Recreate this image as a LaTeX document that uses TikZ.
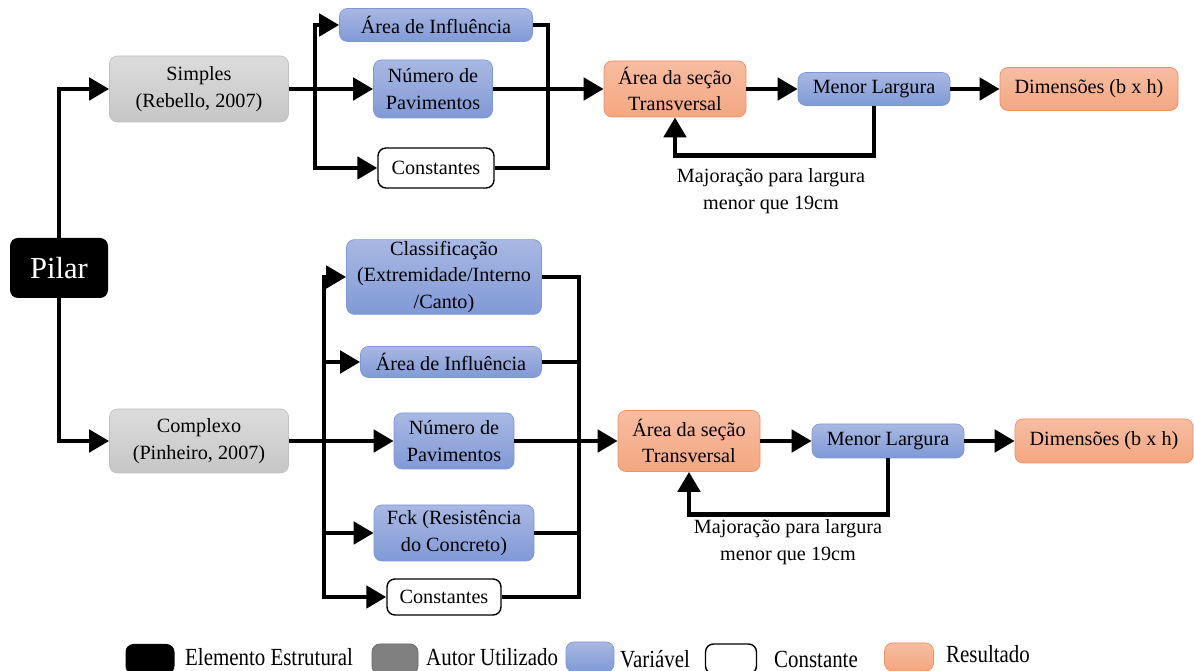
\documentclass[tikz,border=0pt]{standalone}
\usepackage{fontspec}
\setmainfont{Liberation Serif}
\newfontfamily\serifa[FakeStretch=1.0]{Liberation Serif}
\newfontfamily\legfont[FakeStretch=0.85]{Liberation Serif}
\usepackage{xcolor}
\usepackage{tikz}
\usetikzlibrary{arrows.meta, positioning}

\definecolor{azulA}{HTML}{A9B8E3}
\definecolor{azulB}{HTML}{8099D6}
\definecolor{azulBorda}{HTML}{7D97D6}
\definecolor{laranjaA}{HTML}{F7BDA2}
\definecolor{laranjaB}{HTML}{F4A780}
\definecolor{laranjaBorda}{HTML}{EF9064}
\definecolor{cinzaA}{HTML}{DCDCDC}
\definecolor{cinzaB}{HTML}{C6C6C6}
\definecolor{cinzaBorda}{HTML}{C2C2C2}

\begin{document}
\begin{tikzpicture}[
    x=0.02cm, y=-0.02cm,
    every node/.style={font=\serifa\fontsize{11.5}{15}\selectfont},
    caixa/.style 2 args={rounded corners=0.16cm, align=center, inner sep=1pt,
        minimum width=#1*0.02cm, minimum height=#2*0.02cm},
    varbox/.style={draw=azulBorda, top color=azulA, bottom color=azulB, thin},
    resbox/.style={draw=laranjaBorda, top color=laranjaA, bottom color=laranjaB, thin},
    autorbox/.style={draw=cinzaBorda, top color=cinzaA, bottom color=cinzaB, thin},
    constbox/.style={draw=black, fill=white, line width=0.8pt},
    elembox/.style={fill=black, text=white},
    seta/.style={line width=2.7pt, -{Triangle[length=0.4cm, width=0.44cm]}},
    linha/.style={line width=2.7pt},
    rotulo/.style={align=center},
    legtext/.style={anchor=west, font=\legfont\fontsize{14}{16}\selectfont}
]

\useasboundingbox (0,0) rectangle (1194,671);

% elemento estrutural
\node[elembox, caixa={98}{60}, font=\serifa\fontsize{17.4}{20}\selectfont] (pilar) at (59,268) {Pilar};

% ---------- ramo simples ----------
\node[autorbox, caixa={179}{66}] (simples) at (199,89) {Simples\\(Rebello, 2007)};

\node[varbox,   caixa={193}{33}] (areaA)  at (436,25)  {Área de Influência};
\node[varbox,   caixa={119}{58}] (numA)   at (433,89)  {Número de\\Pavimentos};
\node[constbox, caixa={116}{40}] (constA) at (436,168) {Constantes};

\node[resbox, caixa={142}{56}] (secaoA) at (675,89)  {Área da seção\\Transversal};
\node[varbox, caixa={152}{33}] (menorA) at (874,89)  {Menor Largura};
\node[resbox, caixa={178}{43}] (dimA)   at (1089,89) {Dimensões (b x h)};

\node[rotulo] (majA) at (771,191) {Majoração para largura\\menor que 19cm};

\coordinate (bA) at (315,0);
\coordinate (cA) at (548,0);

\draw[seta] (pilar.north) |- (simples.west);
\draw[seta] (simples.east) -- (numA.west);
\draw[seta] (bA |- simples.east) |- (areaA.west);
\draw[seta] (bA |- simples.east) |- (constA.west);
\draw[linha] (areaA.east) -| (cA |- numA.east);
\draw[linha] (constA.east) -| (cA |- numA.east);
\draw[seta] (numA.east) -- (secaoA.west);
\draw[seta] (secaoA.east) -- (menorA.west);
\draw[seta] (menorA.east) -- (dimA.west);
\draw[seta] (menorA.south) -- ++(0,50) -| (secaoA.south);

% ---------- ramo complexo ----------
\node[autorbox, caixa={179}{64}] (complexo) at (199,441) {Complexo\\(Pinheiro, 2007)};

\node[varbox,   caixa={195}{72}] (classB) at (444,277) {Classificação\\(Extremidade/Interno\\/Canto)};
\node[varbox,   caixa={181}{31}] (areaB)  at (451,362) {Área de Influência};
\node[varbox,   caixa={120}{56}] (numB)   at (454,441) {Número de\\Pavimentos};
\node[varbox,   caixa={160}{56}] (fckB)   at (454,533) {Fck (Resistência\\do Concreto)};
\node[constbox, caixa={114}{36}] (constB) at (444,597) {Constantes};

\node[resbox, caixa={142}{61}] (secaoB) at (689,441)  {Área da seção\\Transversal};
\node[varbox, caixa={152}{34}] (menorB) at (888,441)  {Menor Largura};
\node[resbox, caixa={178}{44}] (dimB)   at (1104,441) {Dimensões (b x h)};

\node[rotulo] (majB) at (788,542) {Majoração para largura\\menor que 19cm};

\coordinate (bB) at (324,0);
\coordinate (cB) at (579,0);

\draw[seta] (pilar.south) |- (complexo.west);
\draw[seta] (complexo.east) -- (numB.west);
\draw[seta] (bB |- complexo.east) |- (classB.west);
\draw[seta] (bB |- complexo.east) |- (areaB.west);
\draw[seta] (bB |- complexo.east) |- (fckB.west);
\draw[seta] (bB |- complexo.east) |- (constB.west);
\draw[linha] (classB.east) -| (cB |- numB.east);
\draw[linha] (areaB.east) -| (cB |- numB.east);
\draw[linha] (fckB.east) -| (cB |- numB.east);
\draw[linha] (constB.east) -| (cB |- numB.east);
\draw[seta] (numB.east) -- (secaoB.west);
\draw[seta] (secaoB.east) -- (menorB.west);
\draw[seta] (menorB.east) -- (dimB.west);
\draw[seta] (menorB.south) -- ++(0,56) -| (secaoB.south);

% ---------- legenda ----------
\node[fill=black, caixa={49}{30}] (legElem) at (150,659) {};
\node[legtext] (txElem) at (179,657) {Elemento Estrutural};
\node[draw=gray!80!black, fill=gray, caixa={46}{30}] (legAutor) at (395,659) {};
\node[legtext] (txAutor) at (420,657) {Autor Utilizado};
\node[varbox, caixa={48}{30}] (legVar) at (590,657) {};
\node[legtext] (txVar) at (614,659) {Variável};
\node[constbox, caixa={51}{30}] (legConst) at (731,659) {};
\node[legtext] (txConst) at (768,659) {Constante};
\node[resbox, caixa={49}{28}] (legRes) at (909,657) {};
\node[legtext] (txRes) at (940,654) {Resultado};

\end{tikzpicture}
\end{document}
